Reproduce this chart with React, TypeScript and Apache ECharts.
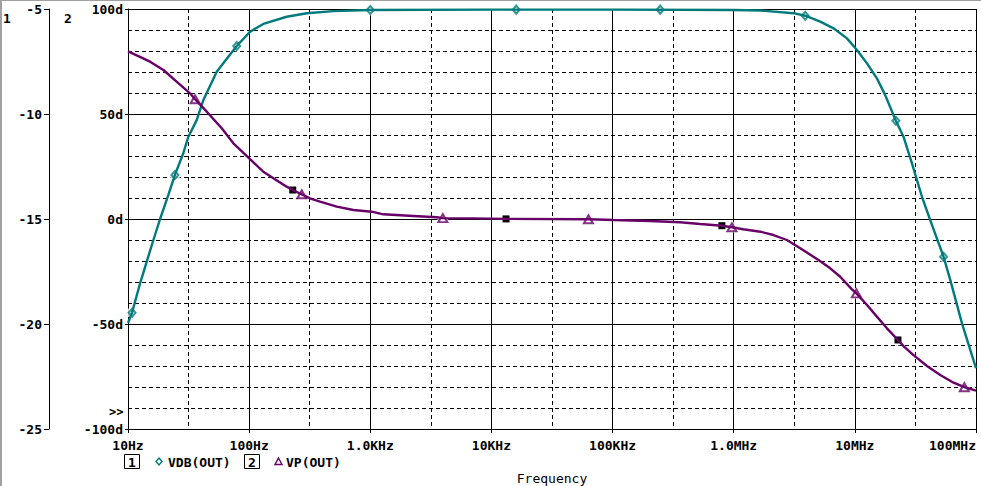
import React, { useEffect, useRef } from "react";
import * as echarts from "echarts";

const xTickLabels = ["10Hz", "100Hz", "1.0KHz", "10KHz", "100KHz", "1.0MHz", "10MHz", "100MHz"];

const vdbFreq = [
  10, 10.8, 12.6, 16.2, 18.4, 21.5, 24.4, 28.6, 31.5, 36.9, 41.9, 54, 67.3, 79, 102, 131, 204, 299, 495, 1000,
  10000, 100000, 1000000, 1.66e6, 3.12e6, 3.89e6, 5.18e6, 6.67e6, 8.61e6, 10.4e6, 12.6e6, 15.2e6, 17.8e6, 21.8e6,
  25.2e6, 29.6e6, 35.8e6, 41.9e6, 54e6, 61.3e6, 76.6e6, 89.8e6, 1e8,
];
const vdbDb = [
  -19.95, -19.46, -18.05, -16.0, -15.0, -13.86, -12.9, -11.87, -11.08, -10.29, -9.33, -7.99, -7.27, -6.76, -6.08,
  -5.71, -5.37, -5.2, -5.1, -5.05,
  -5.03, -5.03, -5.05, -5.07, -5.2, -5.32, -5.6, -5.92, -6.4, -6.95, -7.59, -8.3, -9.1, -10.32,
  -11.08, -12.35, -13.94, -15.05, -16.8, -17.9, -19.97, -21.24, -22.1,
];

const vpFreq = [
  10, 12.3, 15.2, 19.6, 25.2, 32.5, 35.8, 44.7, 59.4, 74.1, 101.7, 131, 158.5, 204, 229, 272, 318, 385, 529, 725,
  1028, 1282, 2268, 3540, 3970, 7100, 13200, 63200, 101700, 204000, 361000, 530000, 799000, 966000, 1.2e6, 1.66e6,
  2.13e6, 2.75e6, 3.54e6, 5.01e6, 6.26e6, 7.57e6, 9.46e6, 10.3e6, 12.6e6, 15.2e6, 18.4e6, 22.7e6, 25.2e6, 30.5e6,
  39.4e6, 50.7e6, 65.3e6, 80.1e6, 1e8,
];
const vpDeg = [
  79.8, 77.4, 74.9, 70.95, 65.4, 59.86, 57.0, 51.1, 43.2, 36.05, 28.5, 22.5, 19.4, 15.4, 13.8, 11.76, 9.86, 8.24,
  5.86, 4.29, 3.48, 2.24, 1.43, 0.81, 0.4, 0.3, 0.05, -0.14, -0.48, -0.95, -1.57, -2.38, -3.19, -3.95, -4.9, -6.05,
  -7.62, -10.0, -13.95, -19.5, -23.5, -27.5, -33.5, -35.4, -40.95, -46.5, -52.05, -57.6, -60.5, -64.8,
  -70.0, -74.3, -77.95, -80.1, -81.76,
];

const vdbMarkFreq = [10.8, 24.4, 79, 1000, 16000, 247000, 3.89e6, 21.8e6, 54e6];
const vdbMarkDb = [-19.46, -12.9, -6.76, -5.05, -5.03, -5.03, -5.32, -10.32, -16.8];
const vpMarkFreq = [35.8, 272, 3970, 63200, 966000, 10.3e6, 80.1e6];
const vpMarkDeg = [57.0, 11.76, 0.4, -0.14, -3.95, -35.4, -80.1];
const sqFreq = [229, 13200, 799000, 22.7e6];
const sqDeg = [13.8, 0.05, -3.19, -57.6];

const TEAL = "#007a7a";
const PURPLE = "#680068";
const MONO = "'DejaVu Sans Mono', 'Liberation Mono', monospace";

const pairs = (xs: number[], ys: number[]) => xs.map((x, i) => [x, ys[i]]);

export default function App() {
  const ref = useRef<HTMLDivElement>(null);
  useEffect(() => {
    document.body.style.margin = "0";
    const chart = echarts.init(ref.current!, undefined, { renderer: "svg" });
    const labelStyle = { color: "#000", fontFamily: MONO, fontWeight: "bold" as const, fontSize: 13 };
    const option: any = {
      animation: false,
      backgroundColor: "#fff",
      grid: { left: 128, right: 5, top: 9, bottom: 57, containLabel: false, outerBoundsMode: "none" },
      xAxis: [
        {
          type: "log",
          logBase: 10,
          min: 10,
          max: 1e8,
          axisLine: { show: true, onZero: false, lineStyle: { color: "#000", width: 1 } },
          axisTick: { show: true, length: 4, lineStyle: { color: "#000" } },
          axisLabel: {
            ...labelStyle,
            margin: 10,
            alignMaxLabel: "right",
            formatter: (v: number) => xTickLabels[Math.round(Math.log10(v)) - 1] ?? "",
          },
          splitLine: { show: true, lineStyle: { color: "#000", width: 1 } },
          name: "Frequency",
          nameLocation: "middle",
          nameGap: 43,
          nameTextStyle: { color: "#000", fontFamily: MONO, fontSize: 13 },
        },
        {
          type: "value",
          min: 1,
          max: 8,
          interval: 0.5,
          axisLine: { show: false },
          axisTick: { show: false },
          axisLabel: { show: false },
          splitLine: { show: true, lineStyle: { color: "#000", width: 1, type: [4, 3] } },
        },
      ],
      yAxis: [
        {
          type: "value",
          min: -25,
          max: -5,
          interval: 5,
          position: "left",
          offset: 79,
          axisLine: { show: true, onZero: false, lineStyle: { color: "#000", width: 1 } },
          axisTick: { show: true, length: 5, lineStyle: { color: "#000" } },
          axisLabel: { ...labelStyle, margin: 7 },
          splitLine: { show: false },
        },
        {
          type: "value",
          min: -100,
          max: 100,
          interval: 50,
          position: "left",
          offset: 0,
          axisLine: { show: true, onZero: false, lineStyle: { color: "#000", width: 1 } },
          axisTick: { show: true, length: 3, lineStyle: { color: "#000" } },
          axisLabel: { ...labelStyle, margin: 5, formatter: (v: number) => `${v}d` },
          splitLine: { show: true, lineStyle: { color: "#000", width: 1 } },
          minorTick: { show: false, splitNumber: 5 },
          minorSplitLine: { show: true, lineStyle: { color: "#000", width: 1, type: [4, 3] } },
        },
      ],
      series: [
        {
          type: "line",
          name: "VDB(OUT)",
          xAxisIndex: 0,
          yAxisIndex: 0,
          data: pairs(vdbFreq, vdbDb),
          showSymbol: false,
          smooth: false,
          lineStyle: { color: TEAL, width: 2.4 },
        },
        {
          type: "line",
          name: "VP(OUT)",
          xAxisIndex: 0,
          yAxisIndex: 1,
          data: pairs(vpFreq, vpDeg),
          showSymbol: false,
          smooth: false,
          lineStyle: { color: PURPLE, width: 2.4 },
        },
        {
          type: "scatter",
          xAxisIndex: 0,
          yAxisIndex: 0,
          data: pairs(vdbMarkFreq, vdbMarkDb),
          symbol: "circle",
          symbolSize: 11,
          itemStyle: { color: "#fff" },
        },
        {
          type: "scatter",
          xAxisIndex: 0,
          yAxisIndex: 1,
          data: pairs(vpMarkFreq, vpMarkDeg).concat(pairs(sqFreq, sqDeg)),
          symbol: "circle",
          symbolSize: 11,
          itemStyle: { color: "#fff" },
        },
        {
          type: "scatter",
          xAxisIndex: 0,
          yAxisIndex: 0,
          data: pairs(vdbMarkFreq, vdbMarkDb),
          symbol: "diamond",
          symbolSize: [7, 8],
          itemStyle: { color: "#fff", borderColor: TEAL, borderWidth: 2 },
        },
        {
          type: "scatter",
          xAxisIndex: 0,
          yAxisIndex: 1,
          data: pairs(vpMarkFreq, vpMarkDeg),
          symbol: "triangle",
          symbolSize: [9, 8],
          itemStyle: { color: "#fff", borderColor: PURPLE, borderWidth: 2 },
        },
        {
          type: "scatter",
          xAxisIndex: 0,
          yAxisIndex: 1,
          data: pairs(sqFreq, sqDeg),
          symbol: "rect",
          symbolSize: 7,
          itemStyle: { color: "#000", opacity: 1 },
        },
      ],
      graphic: [
        { type: "rect", shape: { x: 0, y: 0, width: 981, height: 1 }, style: { fill: "#a0a0a0" }, silent: true },
        { type: "rect", shape: { x: 0, y: 0, width: 2, height: 486 }, style: { fill: "#a0a0a0" }, silent: true },
        { type: "text", x: 3, y: 12, style: { text: "1", font: `bold 13px ${MONO}`, fill: "#000" } },
        { type: "text", x: 64, y: 12, style: { text: "2", font: `bold 13px ${MONO}`, fill: "#000" } },
        { type: "text", x: 109, y: 412, style: { text: ">>", font: `bold 12px ${MONO}`, fill: "#000", verticalAlign: "middle" } },
        { type: "rect", shape: { x: 124.5, y: 454.5, width: 15, height: 14 }, style: { fill: "none", stroke: "#000", lineWidth: 1 } },
        { type: "text", x: 132, y: 462, style: { text: "1", font: `bold 13px ${MONO}`, fill: "#000", align: "center", verticalAlign: "middle" } },
        { type: "polygon", shape: { points: [[159, 458], [162, 461.5], [159, 465], [156, 461.5]] }, style: { fill: "none", stroke: TEAL, lineWidth: 1.4 } },
        { type: "text", x: 168, y: 462, style: { text: "VDB(OUT)", font: `bold 13px ${MONO}`, fill: "#000", verticalAlign: "middle" } },
        { type: "rect", shape: { x: 244.5, y: 454.5, width: 15, height: 14 }, style: { fill: "none", stroke: "#000", lineWidth: 1 } },
        { type: "text", x: 252, y: 462, style: { text: "2", font: `bold 13px ${MONO}`, fill: "#000", align: "center", verticalAlign: "middle" } },
        { type: "polygon", shape: { points: [[278.5, 458], [282, 464.5], [275, 464.5]] }, style: { fill: "none", stroke: PURPLE, lineWidth: 1.4 } },
        { type: "text", x: 286, y: 462, style: { text: "VP(OUT)", font: `bold 13px ${MONO}`, fill: "#000", verticalAlign: "middle" } },
      ],
    };
    chart.setOption(option);
    return () => chart.dispose();
  }, []);
  return (
    <div
      ref={ref}
      style={{ position: "fixed", left: 0, top: 0, width: 981, height: 486, background: "#fff" }}
    />
  );
}
